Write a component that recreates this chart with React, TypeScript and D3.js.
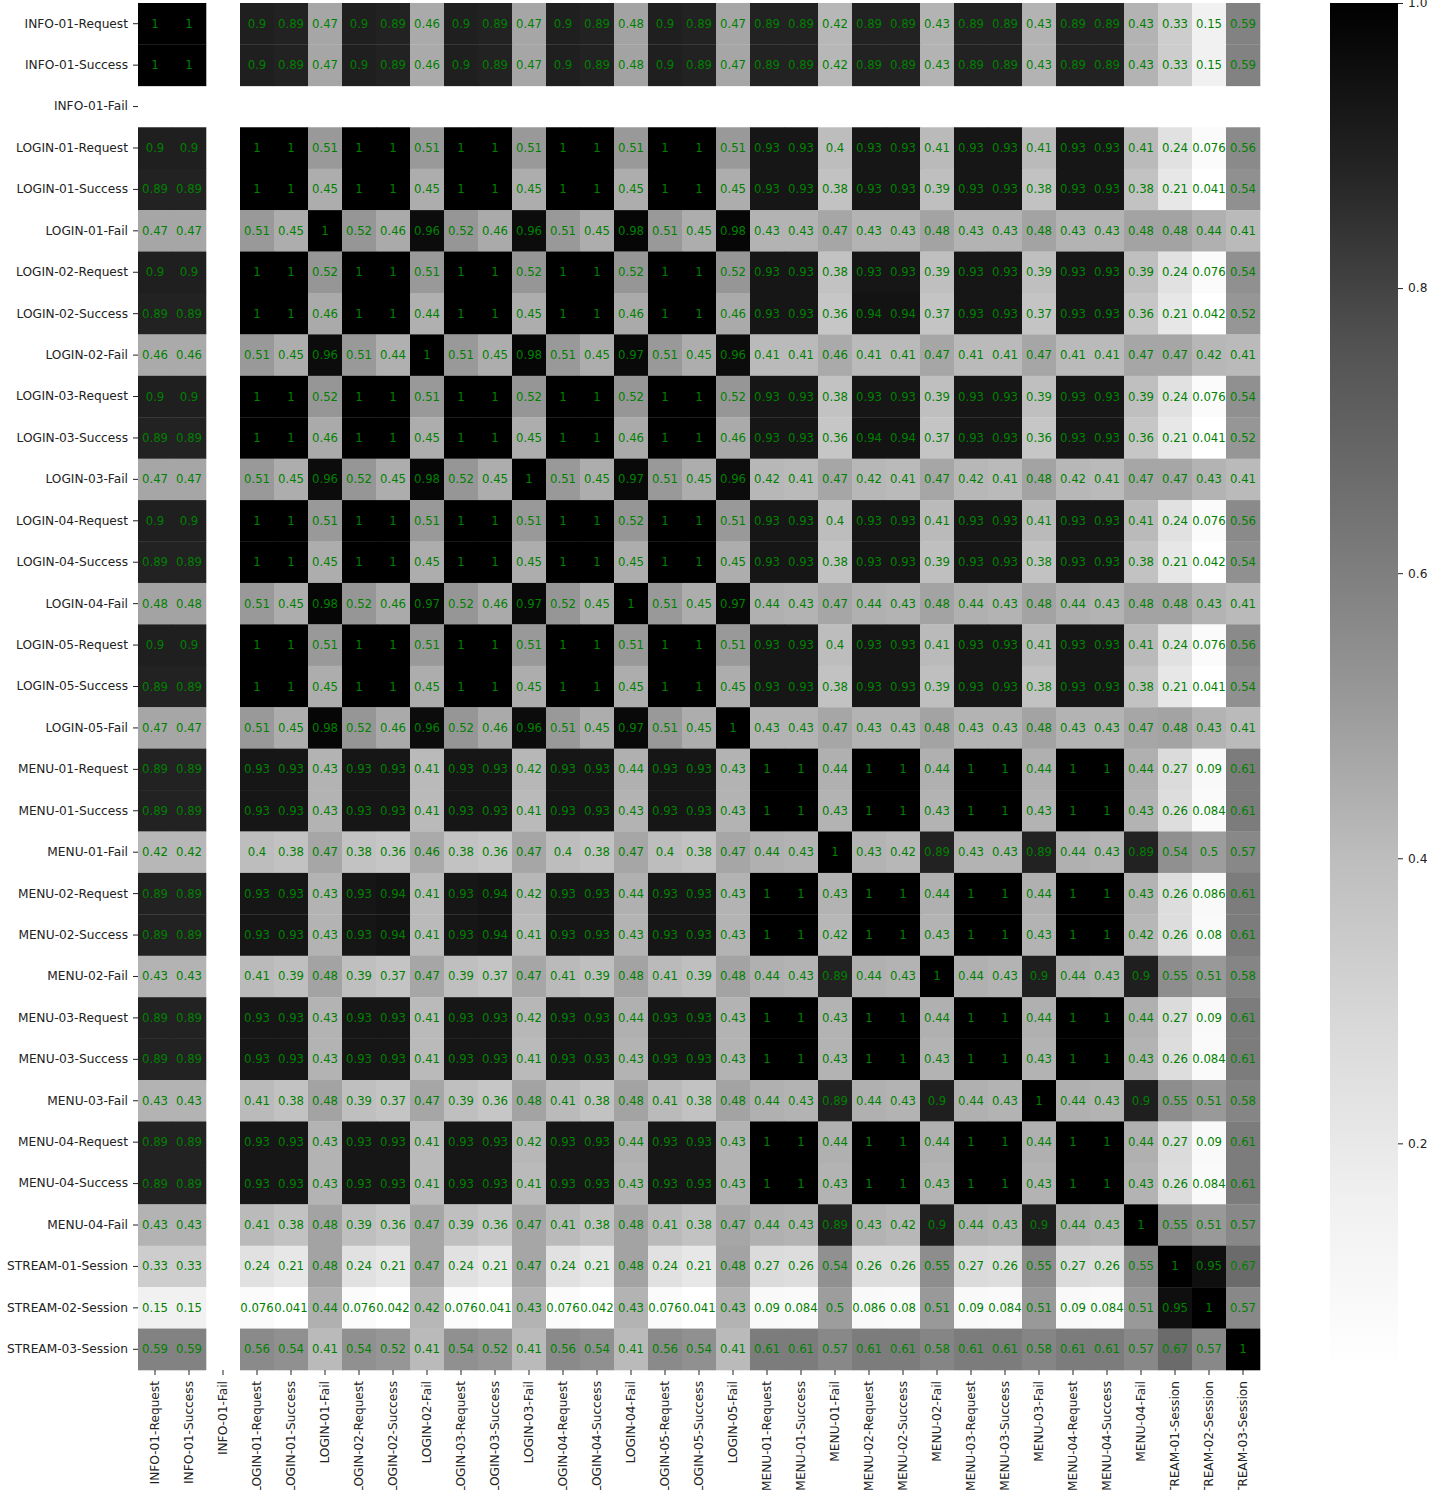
import React, { useEffect, useRef } from "react";
import * as d3 from "d3";

const labels = [
  "INFO-01-Request", "INFO-01-Success", "INFO-01-Fail",
  "LOGIN-01-Request", "LOGIN-01-Success", "LOGIN-01-Fail",
  "LOGIN-02-Request", "LOGIN-02-Success", "LOGIN-02-Fail",
  "LOGIN-03-Request", "LOGIN-03-Success", "LOGIN-03-Fail",
  "LOGIN-04-Request", "LOGIN-04-Success", "LOGIN-04-Fail",
  "LOGIN-05-Request", "LOGIN-05-Success", "LOGIN-05-Fail",
  "MENU-01-Request", "MENU-01-Success", "MENU-01-Fail",
  "MENU-02-Request", "MENU-02-Success", "MENU-02-Fail",
  "MENU-03-Request", "MENU-03-Success", "MENU-03-Fail",
  "MENU-04-Request", "MENU-04-Success", "MENU-04-Fail",
  "STREAM-01-Session", "STREAM-02-Session", "STREAM-03-Session",
];

const N = null;
const corrValues: (number | null)[][] = [
  [1,1,N, 0.9,0.89,0.47, 0.9,0.89,0.46, 0.9,0.89,0.47, 0.9,0.89,0.48, 0.9,0.89,0.47, 0.89,0.89,0.42, 0.89,0.89,0.43, 0.89,0.89,0.43, 0.89,0.89,0.43, 0.33,0.15,0.59],
  [1,1,N, 0.9,0.89,0.47, 0.9,0.89,0.46, 0.9,0.89,0.47, 0.9,0.89,0.48, 0.9,0.89,0.47, 0.89,0.89,0.42, 0.89,0.89,0.43, 0.89,0.89,0.43, 0.89,0.89,0.43, 0.33,0.15,0.59],
  [N,N,N, N,N,N, N,N,N, N,N,N, N,N,N, N,N,N, N,N,N, N,N,N, N,N,N, N,N,N, N,N,N],
  [0.9,0.9,N, 1,1,0.51, 1,1,0.51, 1,1,0.51, 1,1,0.51, 1,1,0.51, 0.93,0.93,0.4, 0.93,0.93,0.41, 0.93,0.93,0.41, 0.93,0.93,0.41, 0.24,0.076,0.56],
  [0.89,0.89,N, 1,1,0.45, 1,1,0.45, 1,1,0.45, 1,1,0.45, 1,1,0.45, 0.93,0.93,0.38, 0.93,0.93,0.39, 0.93,0.93,0.38, 0.93,0.93,0.38, 0.21,0.041,0.54],
  [0.47,0.47,N, 0.51,0.45,1, 0.52,0.46,0.96, 0.52,0.46,0.96, 0.51,0.45,0.98, 0.51,0.45,0.98, 0.43,0.43,0.47, 0.43,0.43,0.48, 0.43,0.43,0.48, 0.43,0.43,0.48, 0.48,0.44,0.41],
  [0.9,0.9,N, 1,1,0.52, 1,1,0.51, 1,1,0.52, 1,1,0.52, 1,1,0.52, 0.93,0.93,0.38, 0.93,0.93,0.39, 0.93,0.93,0.39, 0.93,0.93,0.39, 0.24,0.076,0.54],
  [0.89,0.89,N, 1,1,0.46, 1,1,0.44, 1,1,0.45, 1,1,0.46, 1,1,0.46, 0.93,0.93,0.36, 0.94,0.94,0.37, 0.93,0.93,0.37, 0.93,0.93,0.36, 0.21,0.042,0.52],
  [0.46,0.46,N, 0.51,0.45,0.96, 0.51,0.44,1, 0.51,0.45,0.98, 0.51,0.45,0.97, 0.51,0.45,0.96, 0.41,0.41,0.46, 0.41,0.41,0.47, 0.41,0.41,0.47, 0.41,0.41,0.47, 0.47,0.42,0.41],
  [0.9,0.9,N, 1,1,0.52, 1,1,0.51, 1,1,0.52, 1,1,0.52, 1,1,0.52, 0.93,0.93,0.38, 0.93,0.93,0.39, 0.93,0.93,0.39, 0.93,0.93,0.39, 0.24,0.076,0.54],
  [0.89,0.89,N, 1,1,0.46, 1,1,0.45, 1,1,0.45, 1,1,0.46, 1,1,0.46, 0.93,0.93,0.36, 0.94,0.94,0.37, 0.93,0.93,0.36, 0.93,0.93,0.36, 0.21,0.041,0.52],
  [0.47,0.47,N, 0.51,0.45,0.96, 0.52,0.45,0.98, 0.52,0.45,1, 0.51,0.45,0.97, 0.51,0.45,0.96, 0.42,0.41,0.47, 0.42,0.41,0.47, 0.42,0.41,0.48, 0.42,0.41,0.47, 0.47,0.43,0.41],
  [0.9,0.9,N, 1,1,0.51, 1,1,0.51, 1,1,0.51, 1,1,0.52, 1,1,0.51, 0.93,0.93,0.4, 0.93,0.93,0.41, 0.93,0.93,0.41, 0.93,0.93,0.41, 0.24,0.076,0.56],
  [0.89,0.89,N, 1,1,0.45, 1,1,0.45, 1,1,0.45, 1,1,0.45, 1,1,0.45, 0.93,0.93,0.38, 0.93,0.93,0.39, 0.93,0.93,0.38, 0.93,0.93,0.38, 0.21,0.042,0.54],
  [0.48,0.48,N, 0.51,0.45,0.98, 0.52,0.46,0.97, 0.52,0.46,0.97, 0.52,0.45,1, 0.51,0.45,0.97, 0.44,0.43,0.47, 0.44,0.43,0.48, 0.44,0.43,0.48, 0.44,0.43,0.48, 0.48,0.43,0.41],
  [0.9,0.9,N, 1,1,0.51, 1,1,0.51, 1,1,0.51, 1,1,0.51, 1,1,0.51, 0.93,0.93,0.4, 0.93,0.93,0.41, 0.93,0.93,0.41, 0.93,0.93,0.41, 0.24,0.076,0.56],
  [0.89,0.89,N, 1,1,0.45, 1,1,0.45, 1,1,0.45, 1,1,0.45, 1,1,0.45, 0.93,0.93,0.38, 0.93,0.93,0.39, 0.93,0.93,0.38, 0.93,0.93,0.38, 0.21,0.041,0.54],
  [0.47,0.47,N, 0.51,0.45,0.98, 0.52,0.46,0.96, 0.52,0.46,0.96, 0.51,0.45,0.97, 0.51,0.45,1, 0.43,0.43,0.47, 0.43,0.43,0.48, 0.43,0.43,0.48, 0.43,0.43,0.47, 0.48,0.43,0.41],
  [0.89,0.89,N, 0.93,0.93,0.43, 0.93,0.93,0.41, 0.93,0.93,0.42, 0.93,0.93,0.44, 0.93,0.93,0.43, 1,1,0.44, 1,1,0.44, 1,1,0.44, 1,1,0.44, 0.27,0.09,0.61],
  [0.89,0.89,N, 0.93,0.93,0.43, 0.93,0.93,0.41, 0.93,0.93,0.41, 0.93,0.93,0.43, 0.93,0.93,0.43, 1,1,0.43, 1,1,0.43, 1,1,0.43, 1,1,0.43, 0.26,0.084,0.61],
  [0.42,0.42,N, 0.4,0.38,0.47, 0.38,0.36,0.46, 0.38,0.36,0.47, 0.4,0.38,0.47, 0.4,0.38,0.47, 0.44,0.43,1, 0.43,0.42,0.89, 0.43,0.43,0.89, 0.44,0.43,0.89, 0.54,0.5,0.57],
  [0.89,0.89,N, 0.93,0.93,0.43, 0.93,0.94,0.41, 0.93,0.94,0.42, 0.93,0.93,0.44, 0.93,0.93,0.43, 1,1,0.43, 1,1,0.44, 1,1,0.44, 1,1,0.43, 0.26,0.086,0.61],
  [0.89,0.89,N, 0.93,0.93,0.43, 0.93,0.94,0.41, 0.93,0.94,0.41, 0.93,0.93,0.43, 0.93,0.93,0.43, 1,1,0.42, 1,1,0.43, 1,1,0.43, 1,1,0.42, 0.26,0.08,0.61],
  [0.43,0.43,N, 0.41,0.39,0.48, 0.39,0.37,0.47, 0.39,0.37,0.47, 0.41,0.39,0.48, 0.41,0.39,0.48, 0.44,0.43,0.89, 0.44,0.43,1, 0.44,0.43,0.9, 0.44,0.43,0.9, 0.55,0.51,0.58],
  [0.89,0.89,N, 0.93,0.93,0.43, 0.93,0.93,0.41, 0.93,0.93,0.42, 0.93,0.93,0.44, 0.93,0.93,0.43, 1,1,0.43, 1,1,0.44, 1,1,0.44, 1,1,0.44, 0.27,0.09,0.61],
  [0.89,0.89,N, 0.93,0.93,0.43, 0.93,0.93,0.41, 0.93,0.93,0.41, 0.93,0.93,0.43, 0.93,0.93,0.43, 1,1,0.43, 1,1,0.43, 1,1,0.43, 1,1,0.43, 0.26,0.084,0.61],
  [0.43,0.43,N, 0.41,0.38,0.48, 0.39,0.37,0.47, 0.39,0.36,0.48, 0.41,0.38,0.48, 0.41,0.38,0.48, 0.44,0.43,0.89, 0.44,0.43,0.9, 0.44,0.43,1, 0.44,0.43,0.9, 0.55,0.51,0.58],
  [0.89,0.89,N, 0.93,0.93,0.43, 0.93,0.93,0.41, 0.93,0.93,0.42, 0.93,0.93,0.44, 0.93,0.93,0.43, 1,1,0.44, 1,1,0.44, 1,1,0.44, 1,1,0.44, 0.27,0.09,0.61],
  [0.89,0.89,N, 0.93,0.93,0.43, 0.93,0.93,0.41, 0.93,0.93,0.41, 0.93,0.93,0.43, 0.93,0.93,0.43, 1,1,0.43, 1,1,0.43, 1,1,0.43, 1,1,0.43, 0.26,0.084,0.61],
  [0.43,0.43,N, 0.41,0.38,0.48, 0.39,0.36,0.47, 0.39,0.36,0.47, 0.41,0.38,0.48, 0.41,0.38,0.47, 0.44,0.43,0.89, 0.43,0.42,0.9, 0.44,0.43,0.9, 0.44,0.43,1, 0.55,0.51,0.57],
  [0.33,0.33,N, 0.24,0.21,0.48, 0.24,0.21,0.47, 0.24,0.21,0.47, 0.24,0.21,0.48, 0.24,0.21,0.48, 0.27,0.26,0.54, 0.26,0.26,0.55, 0.27,0.26,0.55, 0.27,0.26,0.55, 1,0.95,0.67],
  [0.15,0.15,N, 0.076,0.041,0.44, 0.076,0.042,0.42, 0.076,0.041,0.43, 0.076,0.042,0.43, 0.076,0.041,0.43, 0.09,0.084,0.5, 0.086,0.08,0.51, 0.09,0.084,0.51, 0.09,0.084,0.51, 0.95,1,0.57],
  [0.59,0.59,N, 0.56,0.54,0.41, 0.54,0.52,0.41, 0.54,0.52,0.41, 0.56,0.54,0.41, 0.56,0.54,0.41, 0.61,0.61,0.57, 0.61,0.61,0.58, 0.61,0.61,0.58, 0.61,0.61,0.57, 0.67,0.57,1],
];

const colorbarTicks = [0.2, 0.4, 0.6, 0.8, 1.0];
const greysStops = ["#ffffff", "#f0f0f0", "#d9d9d9", "#bdbdbd", "#969696", "#737373", "#525252", "#252525", "#000000"];

export default function App() {
  const ref = useRef<SVGSVGElement>(null);

  useEffect(() => {
    const svg = d3.select(ref.current);
    svg.selectAll("*").remove();

    const left = 138, right = 1260, top = 3, bottom = 1370;
    const font = "'DejaVu Sans', sans-serif";
    const tickFont = 12.2;

    const x = d3.scaleBand<string>().domain(labels).range([left, right]);
    const y = d3.scaleBand<string>().domain(labels).range([top, bottom]);

    const flat = corrValues.flat().filter((v) => v !== null) as number[];
    const vmin = d3.min(flat)!;
    const vmax = d3.max(flat)!;
    const color = d3
      .scaleLinear<string>()
      .domain(greysStops.map((_, i) => vmin + (i / (greysStops.length - 1)) * (vmax - vmin)))
      .range(greysStops)
      .interpolate(d3.interpolateRgb);

    const cells: { r: string; c: string; v: number }[] = [];
    corrValues.forEach((row, i) =>
      row.forEach((v, j) => {
        if (v !== null) cells.push({ r: labels[i], c: labels[j], v });
      })
    );

    const g = svg.append("g");
    g.selectAll("rect.cell")
      .data(cells)
      .join("rect")
      .attr("class", "cell")
      .attr("x", (d) => x(d.c)!)
      .attr("y", (d) => y(d.r)!)
      .attr("width", x.bandwidth() + 0.3)
      .attr("height", y.bandwidth() + 0.3)
      .attr("fill", (d) => color(d.v));

    const fmt = d3.format(".2~g");
    g.selectAll("text.annot")
      .data(cells)
      .join("text")
      .attr("class", "annot")
      .attr("x", (d) => x(d.c)! + x.bandwidth() / 2)
      .attr("y", (d) => y(d.r)! + y.bandwidth() / 2)
      .attr("text-anchor", "middle")
      .attr("dominant-baseline", "central")
      .attr("font-family", font)
      .attr("font-size", 11.7)
      .attr("fill", "#008000")
      .text((d) => fmt(d.v));

    // Y axis
    const yAxis = svg
      .append("g")
      .attr("transform", `translate(${left},0)`)
      .call(d3.axisLeft(y).tickSize(5).tickPadding(5));
    yAxis.select(".domain").remove();
    yAxis.selectAll("line").attr("stroke", "#222");
    yAxis.selectAll("text").attr("font-family", font).attr("font-size", tickFont).attr("fill", "#222");

    // X axis
    const xAxis = svg
      .append("g")
      .attr("transform", `translate(0,${bottom})`)
      .call(d3.axisBottom(x).tickSize(5).tickPadding(5));
    xAxis.select(".domain").remove();
    xAxis.selectAll("line").attr("stroke", "#222");
    xAxis
      .selectAll("text")
      .attr("transform", "rotate(-90)")
      .attr("x", -11)
      .attr("y", 0)
      .attr("dy", "0.35em")
      .attr("text-anchor", "end")
      .attr("font-family", font)
      .attr("font-size", tickFont)
      .attr("fill", "#222");

    // Colorbar
    const cbX = 1330, cbW = 68;
    const cbScale = d3.scaleLinear().domain([vmin, vmax]).range([bottom, top]);
    const defs = svg.append("defs");
    const grad = defs
      .append("linearGradient")
      .attr("id", "cbgrad")
      .attr("x1", 0).attr("y1", 1).attr("x2", 0).attr("y2", 0);
    greysStops.forEach((c, i) => {
      grad.append("stop").attr("offset", i / (greysStops.length - 1)).attr("stop-color", c);
    });
    svg
      .append("rect")
      .attr("x", cbX)
      .attr("y", top)
      .attr("width", cbW)
      .attr("height", bottom - top)
      .attr("fill", "url(#cbgrad)");

    const cbAxis = svg
      .append("g")
      .attr("transform", `translate(${cbX + cbW},0)`)
      .call(d3.axisRight(cbScale).tickValues(colorbarTicks).tickFormat(d3.format(".1f")).tickSize(5).tickPadding(5));
    cbAxis.select(".domain").remove();
    cbAxis.selectAll("line").attr("stroke", "#222");
    cbAxis.selectAll("text").attr("font-family", font).attr("font-size", tickFont).attr("fill", "#222");
  }, []);

  return (
    <svg
      ref={ref}
      width={1434}
      height={1490}
      style={{ position: "absolute", left: 0, top: 0, background: "#fff", display: "block" }}
    />
  );
}
